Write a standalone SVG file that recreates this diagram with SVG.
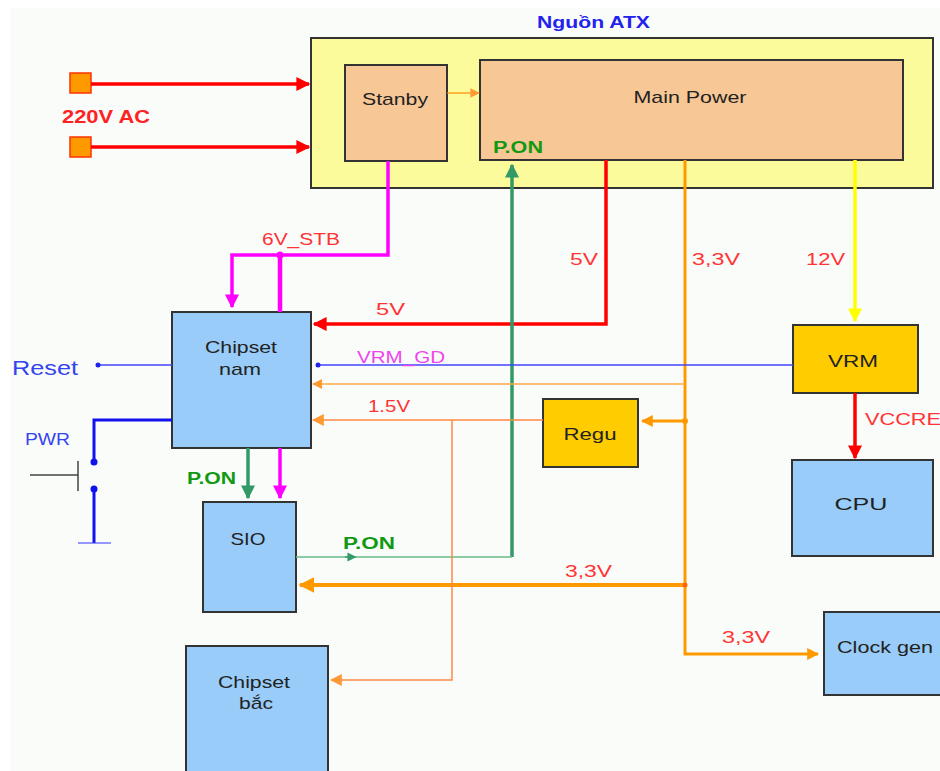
<svg xmlns="http://www.w3.org/2000/svg" width="940" height="771" viewBox="0 0 940 771">
<defs>
<style>
.box{stroke:#333;stroke-width:2}
.blue{fill:#99ccf8}
.gold{fill:#ffcc00}
.peach{fill:#f7c796}
.t{font-family:"Liberation Sans",Arial,sans-serif;fill:#222;text-anchor:middle;font-size:17px}
.lbl{font-family:"Liberation Sans",Arial,sans-serif;fill:#ff3333;font-size:16px}
.g{font-family:"Liberation Sans",Arial,sans-serif;fill:#119911;font-size:16px;font-weight:bold}
.w{fill:none}
</style>
<marker id="aR" viewBox="0 0 10 10" refX="9" refY="5" markerWidth="4" markerHeight="4" orient="auto"><path d="M0,0L10,5L0,10z" fill="#ff0000"/></marker>
<marker id="aM" viewBox="0 0 10 10" refX="9" refY="5" markerWidth="4" markerHeight="4" orient="auto"><path d="M0,0L10,5L0,10z" fill="#ff00ff"/></marker>
<marker id="aG" viewBox="0 0 10 10" refX="9" refY="5" markerWidth="4" markerHeight="4" orient="auto"><path d="M0,0L10,5L0,10z" fill="#339966"/></marker>
<marker id="aO" viewBox="0 0 10 10" refX="9" refY="5" markerWidth="4" markerHeight="4" orient="auto"><path d="M0,0L10,5L0,10z" fill="#ff9900"/></marker>
<marker id="aO2" viewBox="0 0 10 10" refX="9" refY="5" markerWidth="8" markerHeight="8" orient="auto"><path d="M0,0L10,5L0,10z" fill="#ff9933"/></marker>
<marker id="aY" viewBox="0 0 10 10" refX="9" refY="5" markerWidth="4" markerHeight="4" orient="auto"><path d="M0,0L10,5L0,10z" fill="#ffff00"/></marker>
<marker id="aGs" viewBox="0 0 10 10" refX="5" refY="5" markerWidth="7" markerHeight="7" orient="auto"><path d="M0,0L10,5L0,10z" fill="#339966"/></marker>
</defs>
<rect x="0" y="0" width="940" height="771" fill="#ffffff"/>
<rect x="10" y="8" width="930" height="763" fill="#fafcfa"/>

<g id="atx">
<rect class="box" x="311" y="38" width="622" height="150" fill="#fbfb9c"/>
<text x="537" y="28" font-family="Liberation Sans,Arial,sans-serif" font-size="17" font-weight="bold" fill="#2222ee" textLength="113" lengthAdjust="spacingAndGlyphs">Nguồn ATX</text>
</g>
<g id="standby">
<rect class="box peach" x="345" y="65" width="102" height="96"/>
<text class="t" x="395" y="105" textLength="66" lengthAdjust="spacingAndGlyphs">Stanby</text>
</g>
<g id="mainpower">
<rect class="box peach" x="480" y="60" width="423" height="100"/>
<text class="t" x="690" y="103" textLength="113" lengthAdjust="spacingAndGlyphs">Main Power</text>
<text class="g" x="493" y="153" textLength="50" lengthAdjust="spacingAndGlyphs">P.ON</text>
</g>
<g id="in1"><rect x="70" y="73" width="21" height="20" fill="#ff9900" stroke="#ff3300" stroke-width="1.5"/></g>
<g id="in2"><rect x="70" y="137" width="21" height="20" fill="#ff9900" stroke="#ff3300" stroke-width="1.5"/></g>
<text x="62" y="123" font-family="Liberation Sans,Arial,sans-serif" font-size="18" font-weight="bold" fill="#ff2222" textLength="88" lengthAdjust="spacingAndGlyphs">220V AC</text>

<g id="chipsetnam">
<rect class="box blue" x="172" y="312" width="139" height="136"/>
<text class="t" x="241" y="353" textLength="72" lengthAdjust="spacingAndGlyphs">Chipset</text>
<text class="t" x="240" y="375" textLength="42" lengthAdjust="spacingAndGlyphs">nam</text>
</g>
<g id="sio">
<rect class="box blue" x="203" y="502" width="93" height="110"/>
<text class="t" x="248" y="545" textLength="35" lengthAdjust="spacingAndGlyphs">SIO</text>
</g>
<g id="chipsetbac">
<rect class="box blue" x="186" y="646" width="142" height="130"/>
<text class="t" x="254" y="688" textLength="72" lengthAdjust="spacingAndGlyphs">Chipset</text>
<text class="t" x="256" y="709" textLength="34" lengthAdjust="spacingAndGlyphs">bắc</text>
</g>
<g id="regu">
<rect class="box gold" x="543" y="399" width="95" height="68"/>
<text class="t" x="590" y="440" textLength="53" lengthAdjust="spacingAndGlyphs">Regu</text>
</g>
<g id="vrm">
<rect class="box gold" x="793" y="325" width="125" height="68"/>
<text class="t" x="853" y="367" textLength="50" lengthAdjust="spacingAndGlyphs">VRM</text>
</g>
<g id="cpu">
<rect class="box blue" x="792" y="460" width="141" height="96"/>
<text class="t" x="861" y="510" font-size="20" textLength="53" lengthAdjust="spacingAndGlyphs">CPU</text>
</g>
<g id="clockgen">
<rect class="box blue" x="824" y="612" width="124" height="83"/>
<text class="t" x="885" y="653" textLength="96" lengthAdjust="spacingAndGlyphs">Clock gen</text>
</g>

<g id="connectors" class="w">
<path d="M91,84H309" stroke="#ff0000" stroke-width="3.5" marker-end="url(#aR)"/>
<path d="M91,147H309" stroke="#ff0000" stroke-width="3.5" marker-end="url(#aR)"/>
<path d="M447,93H479" stroke="#ff8800" stroke-width="1.2" marker-end="url(#aO2)"/>
<path d="M388,161V255H232V307" stroke="#ff00ff" stroke-width="3.5" marker-end="url(#aM)"/>
<path d="M280,255V312" stroke="#ff00ff" stroke-width="4.5"/>
<circle cx="280" cy="255" r="3.5" fill="#ff00ff"/>
<path d="M606,160V324H314" stroke="#ff0000" stroke-width="3.5" marker-end="url(#aR)"/>
<path d="M512,557V165" stroke="#339966" stroke-width="3.5" marker-end="url(#aG)"/>
<path d="M296,557H512" stroke="#66bb88" stroke-width="1.3"/>
<path d="M345,557H352" stroke="#339966" stroke-width="1.3" marker-end="url(#aGs)"/>
<path d="M685,160V654H818" stroke="#ff9900" stroke-width="3" marker-end="url(#aO)"/>
<path d="M685,384H313" stroke="#ffaa44" stroke-width="1.3" marker-end="url(#aO2)"/>
<path d="M685,421H642" stroke="#ff9900" stroke-width="3" marker-end="url(#aO)"/>
<circle cx="685" cy="421" r="3" fill="#ff9900"/>
<path d="M685,585H300" stroke="#ff9900" stroke-width="4" marker-end="url(#aO)"/>
<circle cx="685" cy="585" r="2.5" fill="#ff6600"/>
<path d="M543,420H313" stroke="#ff8844" stroke-width="1.5" marker-end="url(#aO2)"/>
<path d="M452,420V680H331" stroke="#ff8844" stroke-width="1.5" marker-end="url(#aO2)"/>
<path d="M855,160V321" stroke="#ffff00" stroke-width="3.5" marker-end="url(#aY)"/>
<path d="M855,393V458" stroke="#ff0000" stroke-width="3.5" marker-end="url(#aR)"/>
<path d="M793,365H318" stroke="#4444ff" stroke-width="1.5"/>
<circle cx="318" cy="365" r="2.5" fill="#2222ee"/>
<path d="M248,448V498" stroke="#339966" stroke-width="3.5" marker-end="url(#aG)"/>
<path d="M280,448V498" stroke="#ff00ff" stroke-width="3.5" marker-end="url(#aM)"/>
<path d="M172,365H98" stroke="#4444ff" stroke-width="1.5"/>
<circle cx="98" cy="365" r="2.5" fill="#2222ee"/>
<path d="M172,420H94V462" stroke="#1111ee" stroke-width="3"/>
<circle cx="94" cy="462" r="3.5" fill="#1111ee"/>
<path d="M94,489V543" stroke="#1111ee" stroke-width="3"/>
<circle cx="94" cy="489" r="3.5" fill="#1111ee"/>
<path d="M78,543H111" stroke="#3333ff" stroke-width="1.2"/>
<path d="M30,475H78M78,461V491" stroke="#444" stroke-width="1.5"/>
</g>

<g id="labels">
<text class="lbl" x="262" y="245" textLength="78" lengthAdjust="spacingAndGlyphs">6V_STB</text>
<text class="lbl" x="570" y="265" textLength="28" lengthAdjust="spacingAndGlyphs">5V</text>
<text class="lbl" x="376" y="315" textLength="29" lengthAdjust="spacingAndGlyphs">5V</text>
<text class="lbl" x="692" y="265" textLength="48" lengthAdjust="spacingAndGlyphs">3,3V</text>
<text class="lbl" x="806" y="265" textLength="39" lengthAdjust="spacingAndGlyphs">12V</text>
<text x="357" y="363" font-family="Liberation Sans,Arial,sans-serif" font-size="16" fill="#ee44ee" textLength="88" lengthAdjust="spacingAndGlyphs">VRM_GD</text>
<text class="lbl" x="368" y="412" textLength="42" lengthAdjust="spacingAndGlyphs">1.5V</text>
<text class="lbl" x="865" y="425" textLength="76" lengthAdjust="spacingAndGlyphs">VCCRE</text>
<text class="lbl" x="565" y="577" textLength="47" lengthAdjust="spacingAndGlyphs">3,3V</text>
<text class="lbl" x="722" y="643" textLength="48" lengthAdjust="spacingAndGlyphs">3,3V</text>
<text class="g" x="343" y="549" textLength="52" lengthAdjust="spacingAndGlyphs">P.ON</text>
<text class="g" x="187" y="484" textLength="49" lengthAdjust="spacingAndGlyphs">P.ON</text>
<text x="12" y="375" font-family="Liberation Sans,Arial,sans-serif" font-size="21" fill="#3344ee" textLength="66" lengthAdjust="spacingAndGlyphs">Reset</text>
<text x="25" y="445" font-family="Liberation Sans,Arial,sans-serif" font-size="16" fill="#3344ee" textLength="45" lengthAdjust="spacingAndGlyphs">PWR</text>
</g>
</svg>
